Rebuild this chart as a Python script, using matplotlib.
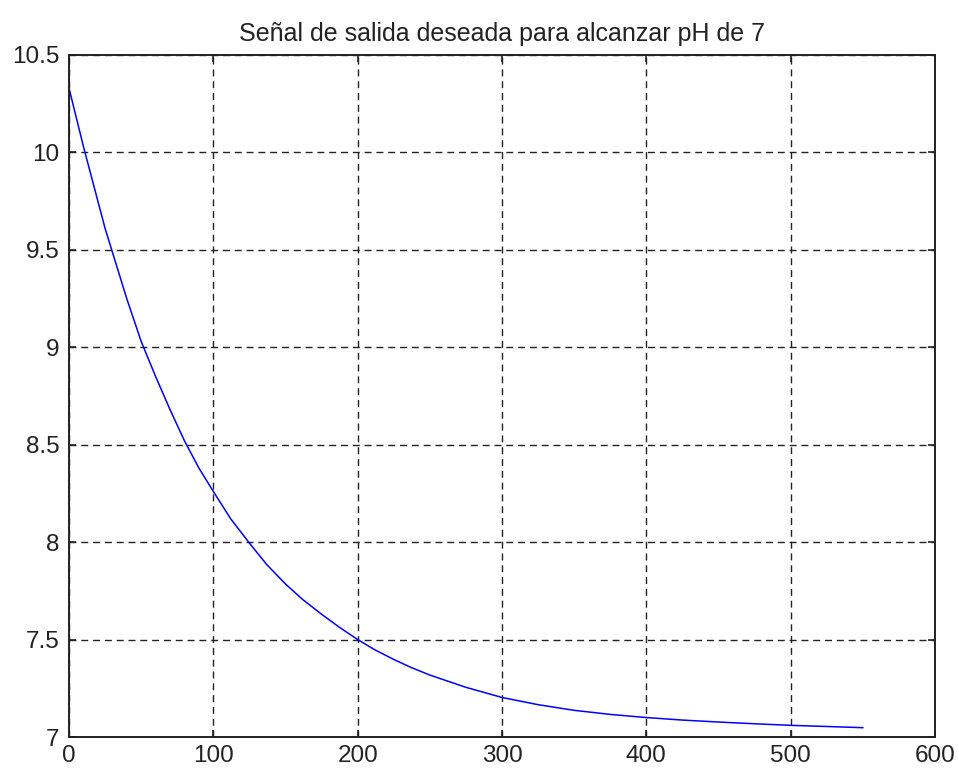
import matplotlib.pyplot as plt

# Values
tiempo = [0, 5, 10, 15, 20, 25, 30, 35, 40, 45, 50, 60, 70, 80, 90, 100, 112, 125, 137, 150,
          162, 175, 187, 200, 212, 225, 237, 250, 275, 300, 325, 350, 375, 400, 425, 450, 475,
          500, 525, 550]
salida = [10.33, 10.18, 10.03, 9.89, 9.75, 9.61, 9.49, 9.37, 9.25, 9.14, 9.03, 8.85, 8.68,
          8.52, 8.38, 8.26, 8.12, 7.995, 7.885, 7.785, 7.705, 7.63, 7.565, 7.50, 7.447, 7.398,
          7.357, 7.318, 7.255, 7.203, 7.166, 7.137, 7.116, 7.10, 7.087, 7.077, 7.068, 7.06,
          7.054, 7.048]

x_ticks = [0, 100, 200, 300, 400, 500, 600]
y_ticks = [7, 7.5, 8, 8.5, 9, 9.5, 10, 10.5]
y_labels = ['7', '7.5', '8', '8.5', '9', '9.5', '10', '10.5']

plt.rcParams['font.family'] = ['Liberation Sans', 'DejaVu Sans']

fig = plt.figure(figsize=(9.58, 7.72), dpi=100)
ax = fig.add_axes([0.072, 0.0453, 0.904, 0.8837])

ax.plot(tiempo, salida, color='#0000ff', linewidth=1.1)

ax.set_xlim(0, 600)
ax.set_ylim(7, 10.5)
ax.set_xticks(x_ticks)
ax.set_yticks(y_ticks)
ax.set_yticklabels(y_labels)

ax.grid(True, color='#222222', linestyle=(0, (5, 3.5)), linewidth=1.0)
ax.tick_params(direction='in', length=5, width=1.2, top=True, right=True,
               labelsize=17.5, colors='#222222', pad=7)
ax.tick_params(axis='x', pad=6)
for s in ax.spines.values():
    s.set_linewidth(1.4)
    s.set_color('#222222')

ax.set_title('Señal de salida deseada para alcanzar pH de 7', fontsize=18,
             color='#222222', pad=10)

fig.savefig('out.png', dpi=100)
